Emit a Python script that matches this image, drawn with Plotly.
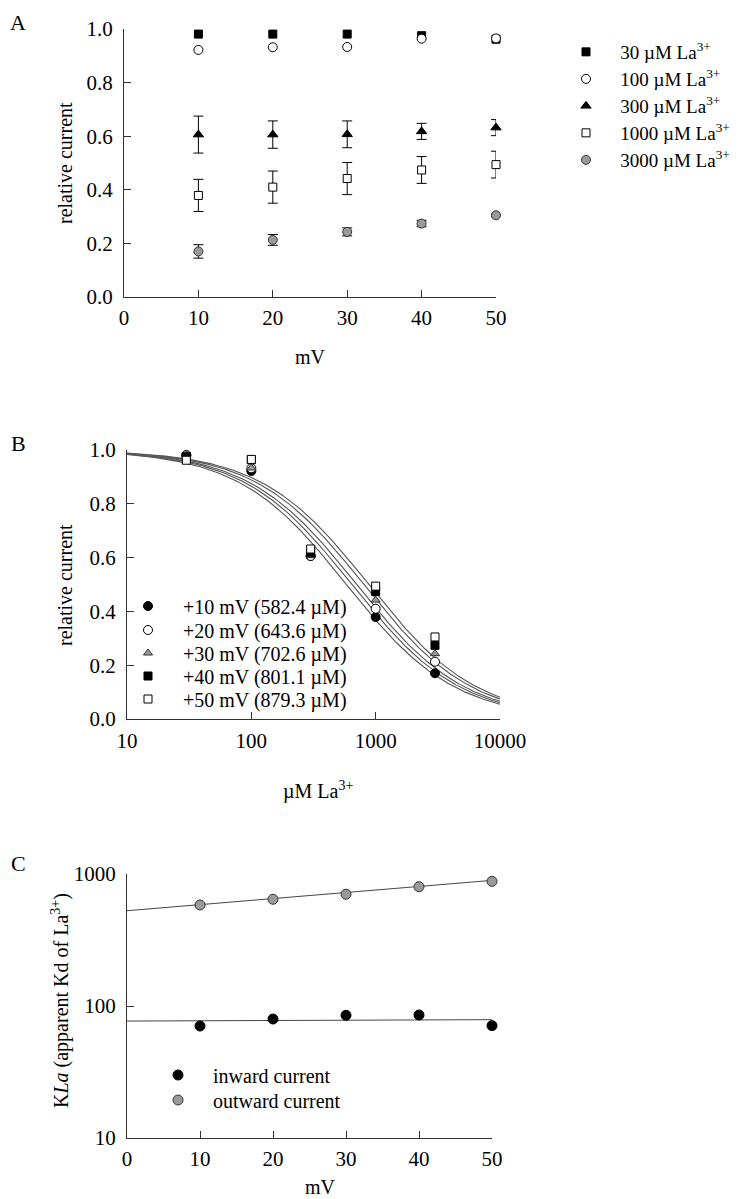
import plotly.graph_objects as go

# page body has an 8px margin, so the figure is drawn 8px in from the top-left corner
OFF = 8
W, H = 739 - OFF, 1199 - OFF
FONT = "Liberation Serif, Times New Roman, serif"

# ---------------- data ----------------
mv = [10, 20, 30, 40, 50]
la30 = [0.981, 0.981, 0.981, 0.975, 0.962]
la100 = [0.922, 0.932, 0.933, 0.964, 0.965]
la300 = [0.606, 0.606, 0.607, 0.618, 0.632]
err300 = [0.069, 0.051, 0.050, 0.030, 0.030]
la1000 = [0.379, 0.410, 0.442, 0.474, 0.494]
err1000 = [0.060, 0.060, 0.060, 0.050, 0.050]
la3000 = [0.170, 0.213, 0.243, 0.274, 0.305]
err3000 = [0.025, 0.020, 0.015, 0.012, 0.005]

conc = [30, 100, 300, 1000, 3000]
kd = [582.4, 643.6, 702.6, 801.1, 879.3]
mv_labels = ["+10 mV (582.4 \u00b5M)", "+20 mV (643.6 \u00b5M)", "+30 mV (702.6 \u00b5M)",
             "+40 mV (801.1 \u00b5M)", "+50 mV (879.3 \u00b5M)"]

inward = [70.5, 79.7, 85.0, 85.5, 71.0]
outward = [582.4, 643.6, 702.6, 801.1, 879.3]
fit_mv = [0, 50]
fit_in = [76.9, 78.8]
fit_out = [527, 895]

conc_curve = [10 * 10 ** (i / 100) for i in range(301)]

# ---------------- helpers (page pixels -> paper fractions) ----------------
def px(x):
    return (x - OFF) / W

def py(y):
    return 1 - (y - OFF) / H

BLACK = "black"
GRAY = "#9a9a9a"
AX = "#333333"
NB = "\u00a0"

fig = go.Figure()
legends = {}
leg_count = [0]

def new_legend(x, y, size):
    leg_count[0] += 1
    key = "legend" if leg_count[0] == 1 else "legend%d" % leg_count[0]
    legends[key] = dict(x=px(x), y=py(y), xanchor="left", yanchor="middle",
                        bgcolor="rgba(0,0,0,0)", borderwidth=0,
                        font=dict(family=FONT, size=size, color=BLACK), itemclick=False)
    return key

# ---------------- panel A ----------------
a_series = [
    ("30 \u00b5M La<sup>3+</sup>", la30, None, dict(symbol="square", color=BLACK, size=8, line=dict(color=BLACK, width=1))),
    ("100 \u00b5M La<sup>3+</sup>", la100, None, dict(symbol="circle", color="white", size=9, line=dict(color=BLACK, width=1))),
    ("300 \u00b5M La<sup>3+</sup>", la300, err300, dict(symbol="triangle-up", color=BLACK, size=9, line=dict(color=BLACK, width=1))),
    ("1000 \u00b5M La<sup>3+</sup>", la1000, err1000, dict(symbol="square", color="white", size=8, line=dict(color=BLACK, width=1))),
    ("3000 \u00b5M La<sup>3+</sup>", la3000, err3000, dict(symbol="circle", color=GRAY, size=9, line=dict(color=AX, width=1))),
]
a_rows = [52, 79, 106, 133, 160]
for (name, ys, err, mk), ry in zip(a_series, a_rows):
    fig.add_trace(go.Scatter(
        x=mv, y=ys, mode="markers", name=NB * 3 + name, marker=mk,
        error_y=(dict(type="data", array=err, color=BLACK, thickness=1, width=5) if err else None),
        xaxis="x", yaxis="y", legend=new_legend(566, ry, 19), cliponaxis=False))

# ---------------- panel B ----------------
b_cols = list(zip(la30, la100, la300, la1000, la3000))
b_markers = [
    dict(symbol="circle", color=BLACK, size=9, line=dict(color=BLACK, width=1)),
    dict(symbol="circle", color="white", size=9, line=dict(color=BLACK, width=1)),
    dict(symbol="triangle-up", color=GRAY, size=8, line=dict(color=AX, width=1)),
    dict(symbol="square", color=BLACK, size=8, line=dict(color=BLACK, width=1)),
    dict(symbol="square", color="white", size=8, line=dict(color=BLACK, width=1)),
]
b_rows = [606, 630, 653, 676, 699]
for k in kd:
    fig.add_trace(go.Scatter(
        x=conc_curve, y=[1 / (1 + c / k) for c in conc_curve], mode="lines",
        line=dict(color="#555555", width=1.1), showlegend=False,
        xaxis="x2", yaxis="y2", hoverinfo="skip"))
for i in range(5):
    fig.add_trace(go.Scatter(
        x=conc, y=list(b_cols[i]), mode="markers", name=NB * 3 + mv_labels[i],
        marker=b_markers[i], xaxis="x2", yaxis="y2",
        legend=new_legend(128, b_rows[i], 20), cliponaxis=False))

# ---------------- panel C ----------------
fig.add_trace(go.Scatter(x=fit_mv, y=fit_in, mode="lines", line=dict(color="#444444", width=1),
                         showlegend=False, xaxis="x3", yaxis="y3"))
fig.add_trace(go.Scatter(x=fit_mv, y=fit_out, mode="lines", line=dict(color="#444444", width=1),
                         showlegend=False, xaxis="x3", yaxis="y3"))
fig.add_trace(go.Scatter(x=mv, y=inward, mode="markers", name=NB * 3 + "inward current",
                         marker=dict(symbol="circle", color=BLACK, size=10, line=dict(color=BLACK, width=1)),
                         xaxis="x3", yaxis="y3", legend=new_legend(158, 1075, 20), cliponaxis=False))
fig.add_trace(go.Scatter(x=mv, y=outward, mode="markers", name=NB * 3 + "outward current",
                         marker=dict(symbol="circle", color=GRAY, size=10, line=dict(color=AX, width=1)),
                         xaxis="x3", yaxis="y3", legend=new_legend(158, 1100, 20), cliponaxis=False))

# ---------------- axes ----------------
def axstyle(**kw):
    d = dict(showgrid=False, zeroline=False, showline=True, linecolor=AX, linewidth=1,
             ticks="inside", ticklen=7, tickwidth=1, tickcolor=AX, automargin=False,
             tickfont=dict(family=FONT, size=21, color=BLACK), mirror=False)
    d.update(kw)
    return d

fig.update_layout(
    width=W, height=H, margin=dict(l=0, r=0, t=0, b=0, autoexpand=False),
    paper_bgcolor="white", plot_bgcolor="white",
    font=dict(family=FONT, size=20, color=BLACK),
    xaxis=axstyle(domain=[px(124), px(496)], range=[0, 50], tickvals=[0, 10, 20, 30, 40, 50],
                  anchor="y", ticklabelstandoff=2),
    yaxis=axstyle(domain=[py(297), py(29)], range=[0, 1], tickvals=[0, 0.2, 0.4, 0.6, 0.8, 1.0],
                  tickformat=".1f", anchor="x", ticklabelstandoff=6),
    xaxis2=axstyle(domain=[px(127), px(500)], type="log", range=[1, 4],
                   tickvals=[10, 100, 1000, 10000], ticktext=["10", "100", "1000", "10000"],
                   anchor="y2", ticklabelstandoff=3),
    yaxis2=axstyle(domain=[py(719), py(450)], range=[0, 1], tickvals=[0, 0.2, 0.4, 0.6, 0.8, 1.0],
                   tickformat=".1f", anchor="x2", ticklabelstandoff=6),
    xaxis3=axstyle(domain=[px(127), px(492)], range=[0, 50], tickvals=[0, 10, 20, 30, 40, 50],
                   anchor="y3", ticklabelstandoff=2),
    yaxis3=axstyle(domain=[py(1138), py(874)], type="log", range=[1, 3],
                   tickvals=[10, 100, 1000], ticktext=["10", "100", "1000"],
                   anchor="x3", ticklabelstandoff=6),
    showlegend=True,
)
fig.update_layout(**legends)

ann = []
def text(x, y, t, size=20, angle=0):
    ann.append(dict(x=px(x), y=py(y), xref="paper", yref="paper", text=t, showarrow=False,
                    font=dict(family=FONT, size=size, color=BLACK), textangle=angle,
                    xanchor="center", yanchor="middle"))

text(18, 23, "A", 22)
text(18, 443, "B", 22)
text(18, 863, "C", 22)
text(310, 357, "mV")
text(65, 163, "relative current", angle=-90)
text(318, 790, "\u00b5M La<sup>3+</sup>")
text(65, 585, "relative current", angle=-90)
text(320, 1187, "mV")
text(60, 1001, "K<i>La</i> (apparent Kd of La<sup>3+</sup>)", angle=-90)
fig.update_layout(annotations=ann)

fig.write_html("out.html")
